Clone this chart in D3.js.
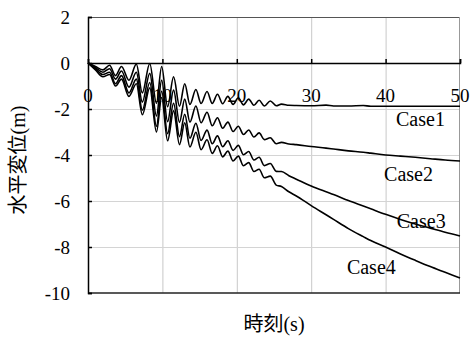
<!DOCTYPE html>
<html>
<head>
<meta charset="utf-8">
<script src="https://cdn.jsdelivr.net/npm/d3@7"></script>
<style>
  html, body { margin: 0; padding: 0; background: #fff; }
  svg { display: block; }
  svg text { font-family: "Times New Roman", "Liberation Serif", "DejaVu Serif", "Noto Sans CJK JP", serif; }
</style>
</head>
<body>
<svg id="chart" width="470" height="338"></svg>
<script>
// time samples (s), shared by the four cases
const times = [0, 1, 2, 2.9, 3.7, 4.5, 5.5, 6.5, 7.3, 8.3, 9.2, 9.9, 10.7, 11.5, 12.3, 13.0, 13.7,
  14.5, 15.2, 16.0, 16.7, 17.4, 18.1, 18.8, 19.5, 20.2, 20.9, 21.6, 22.3, 23.0, 23.7, 24.5, 25.3,
  26, 27, 28, 30, 32, 33, 35, 37, 38, 40, 42, 44, 46, 48, 50];

// horizontal displacement (m)
const case1 = [0, -0.15, -0.3, -0.1, -0.55, -0.15, -0.75, -0.05, -1.3, -0.02, -1.75, -0.15, -1.9, -0.6,
  -1.88, -0.9, -1.8, -1.15, -1.76, -1.24, -1.76, -1.36, -1.77, -1.45, -1.8, -1.51, -1.82, -1.57, -1.84,
  -1.62, -1.87, -1.65, -1.86, -1.79, -1.84, -1.85, -1.86, -1.83, -1.87, -1.87, -1.85, -1.88, -1.88,
  -1.88, -1.88, -1.88, -1.88, -1.88];
const case2 = [0, -0.2, -0.4, -0.25, -0.7, -0.35, -1.05, -0.4, -1.7, -0.45, -2.3, -0.75, -2.55, -1.18,
  -2.58, -1.57, -2.57, -1.87, -2.6, -2.14, -2.73, -2.38, -2.84, -2.57, -2.98, -2.75, -3.11, -2.91, -3.22,
  -3.04, -3.33, -3.25, -3.51, -3.45, -3.52, -3.55, -3.63, -3.7, -3.74, -3.82, -3.88, -3.92, -4.0, -4.05,
  -4.1, -4.16, -4.22, -4.26];
const case3 = [0, -0.25, -0.5, -0.4, -0.9, -0.55, -1.3, -0.7, -2.05, -0.85, -2.75, -1.23, -3.07, -1.75,
  -3.2, -2.23, -3.27, -2.62, -3.37, -2.92, -3.51, -3.17, -3.64, -3.38, -3.8, -3.58, -3.99, -3.85, -4.22,
  -4.1, -4.46, -4.37, -4.71, -4.72, -4.9, -5.05, -5.35, -5.6, -5.72, -5.98, -6.22, -6.34, -6.58, -6.8,
  -7.0, -7.18, -7.36, -7.52];
const case4 = [0, -0.3, -0.6, -0.5, -1.0, -0.7, -1.45, -0.9, -2.25, -1.08, -3.0, -1.5, -3.38, -2.08,
  -3.55, -2.6, -3.65, -3.01, -3.77, -3.34, -3.93, -3.6, -4.08, -3.83, -4.26, -4.05, -4.47, -4.33, -4.72,
  -4.62, -4.99, -4.92, -5.31, -5.37, -5.6, -5.78, -6.2, -6.6, -6.8, -7.2, -7.55, -7.72, -8.0, -8.3,
  -8.58, -8.85, -9.1, -9.35];

const caseNames = ["Case1", "Case2", "Case3", "Case4"];
// label anchors in data units (t, m)
const labelT = [41.4, 39.8, 41.5, 34.8];
const labelV = [-2.74, -5.13, -7.17, -9.17];

const xTicks = [0, 10, 20, 30, 40, 50];
const yTicks = [2, 0, -2, -4, -6, -8, -10];
const xTitle = "時刻(s)";
const yTitle = "水平変位(m)";

const svg = d3.select("#chart");
const x = d3.scaleLinear().domain([0, 50]).range([88, 460]);
const y = d3.scaleLinear().domain([-10, 2]).range([293, 17]);

// grid
const grid = svg.append("g");
grid.selectAll("line.v")
  .data(xTicks.filter(d => d > 0 && d < 50))
  .join("line")
  .attr("class", "v")
  .attr("x1", d => x(d) + 0.5).attr("x2", d => x(d) + 0.5)
  .attr("y1", y(2)).attr("y2", y(-10))
  .attr("stroke", "#c8c8c8").attr("stroke-width", 1);
grid.selectAll("line.h")
  .data(yTicks.filter(d => d < 0 && d > -10))
  .join("line")
  .attr("class", "h")
  .attr("x1", x(0)).attr("x2", x(50))
  .attr("y1", d => y(d) + 0.5).attr("y2", d => y(d) + 0.5)
  .attr("stroke", "#d4d4d4").attr("stroke-width", 1);

// frame
svg.append("line").attr("x1", x(0)).attr("x2", x(50)).attr("y1", y(2) + 0.5).attr("y2", y(2) + 0.5)
  .attr("stroke", "#555").attr("stroke-width", 1);
svg.append("line").attr("x1", x(50) - 0.5).attr("x2", x(50) - 0.5).attr("y1", y(2)).attr("y2", y(-10))
  .attr("stroke", "#999").attr("stroke-width", 1);
svg.append("line").attr("x1", x(0)).attr("x2", x(50)).attr("y1", y(-10)).attr("y2", y(-10))
  .attr("stroke", "#222").attr("stroke-width", 1.5);

// y axis: ticks point inward
const yAxis = svg.append("g")
  .attr("transform", `translate(${x(0)},0)`)
  .call(d3.axisRight(y).tickValues(yTicks).tickSize(4).tickFormat(""));
yAxis.select(".domain").attr("stroke", "#000").attr("stroke-width", 1.5);
yAxis.selectAll(".tick line").attr("stroke", "#000").attr("stroke-width", 1.5);

svg.append("g").selectAll("text")
  .data(yTicks)
  .join("text")
  .attr("x", 70)
  .attr("y", d => y(d))
  .attr("dy", "0.35em")
  .attr("text-anchor", "end")
  .attr("font-size", 19)
  .text(d => d);

// x axis at zero, ticks point upward
const xAxis = svg.append("g")
  .attr("transform", `translate(0,${y(0)})`)
  .call(d3.axisTop(x).tickValues(xTicks).tickSize(4).tickFormat(""));
xAxis.select(".domain").attr("stroke", "#000").attr("stroke-width", 1.5);
xAxis.selectAll(".tick line").attr("stroke", "#000").attr("stroke-width", 1.5);

// curves
const series = [case1, case2, case3, case4];
const line = d3.line()
  .x((d, i) => x(times[i]))
  .y(d => y(d))
  .curve(d3.curveMonotoneX);
svg.append("g").selectAll("path")
  .data(series)
  .join("path")
  .attr("d", d => line(d))
  .attr("fill", "none")
  .attr("stroke", "#000")
  .attr("stroke-width", 1.6);

// x tick labels sit below the zero line, over the curves
svg.append("g").selectAll("text")
  .data(xTicks)
  .join("text")
  .attr("x", d => x(d))
  .attr("y", y(0) + 39)
  .attr("text-anchor", "middle")
  .attr("font-size", 19)
  .text(d => d);

// case labels
svg.append("g").selectAll("text")
  .data(caseNames)
  .join("text")
  .attr("x", (d, i) => x(labelT[i]))
  .attr("y", (d, i) => y(labelV[i]))
  .attr("font-size", 20)
  .text(d => d);

// axis titles
svg.append("text")
  .attr("x", 274)
  .attr("y", 331)
  .attr("text-anchor", "middle")
  .attr("font-size", 20)
  .text(xTitle);

svg.append("text")
  .attr("transform", "translate(25,160) rotate(-90)")
  .attr("text-anchor", "middle")
  .attr("font-size", 20)
  .text(yTitle);
</script>
</body>
</html>
